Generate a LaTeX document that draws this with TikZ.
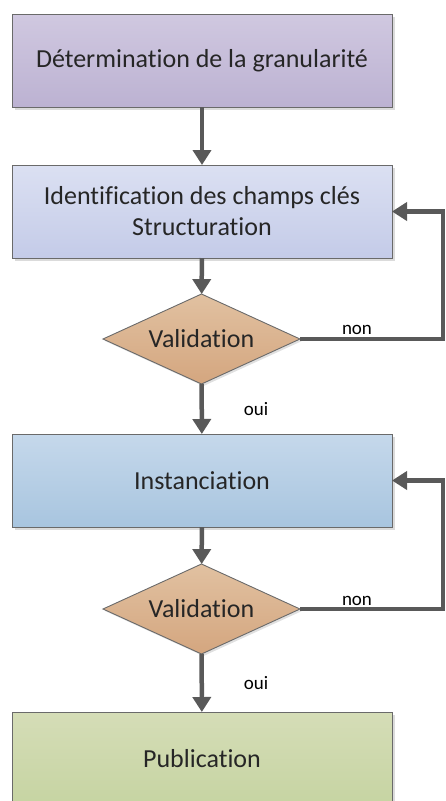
\documentclass[tikz,border=0pt]{standalone}
\usepackage{fontspec}
\setmainfont{Carlito}[Ligatures={NoCommon,NoRare,NoContextual}]
\usetikzlibrary{arrows.meta,shapes.geometric,shadows}
\definecolor{edgegray}{HTML}{595959}
\definecolor{bordergray}{HTML}{6A6A6A}
\definecolor{txt}{HTML}{262626}
\tikzset{
  box/.style={rectangle, draw=bordergray, line width=0.9pt, minimum width=380pt, minimum height=93pt,
    inner sep=0pt, outer sep=0pt, align=center, text=txt,
    font=\fontsize{26}{31}\selectfont,
    drop shadow={shadow xshift=3pt, shadow yshift=-3pt, fill=black!14, opacity=1}},
  decision/.style={diamond, aspect=2.19, draw=bordergray, line width=0.9pt, minimum width=197pt, minimum height=90pt,
    inner sep=0pt, outer sep=0pt, text=txt, font=\fontsize{26}{31}\selectfont,
    top color=dmdtop, bottom color=dmdbot,
    drop shadow={shadow xshift=2pt, shadow yshift=-2pt, fill=black!12, opacity=1}},
  conn/.style={draw=edgegray, line width=4.5pt, -{Triangle[width=18pt,length=15pt]}},
  lbl/.style={font=\fontsize{19}{22}\selectfont, text=black, inner sep=0pt}
}
\definecolor{b1top}{HTML}{D0C8E0}
\definecolor{b1bot}{HTML}{BCB2D2}
\definecolor{b2top}{HTML}{DBE0F2}
\definecolor{b2bot}{HTML}{C4CBE8}
\definecolor{b3top}{HTML}{C5D8EB}
\definecolor{b3bot}{HTML}{A8C5DF}
\definecolor{b4top}{HTML}{D5DDB7}
\definecolor{b4bot}{HTML}{C6D4A2}
\definecolor{dmdtop}{HTML}{E1C1A1}
\definecolor{dmdbot}{HTML}{D4A67F}
\begin{document}
\begin{tikzpicture}[x=1pt,y=-1pt]
\useasboundingbox (0,0) rectangle (445,801);
\node[box, top color=b1top, bottom color=b1bot] (b1) at (202,60.5) {Détermination de la granularité};
\node[box, top color=b2top, bottom color=b2bot] (b2) at (202,211.5) {Identification des champs clés\\Structuration};
\node[decision] (d1) at (201.5,339) {Validation};
\node[box, top color=b3top, bottom color=b3bot] (b3) at (202,480.5) {Instanciation};
\node[decision] (d2) at (201.5,609) {Validation};
\node[box, top color=b4top, bottom color=b4bot] (b4) at (202,758.5) {Publication};
\coordinate (r1) at (443,339);
\coordinate (r2) at (443,609);
\draw[conn] (b1) -- (b2);
\draw[conn] (b2) -- (d1);
\draw[conn] (d1) -- (b3);
\draw[conn] (b3) -- (d2);
\draw[conn] (d2) -- (b4);
\draw[conn] (d1.east) -- (r1) |- (b2.east);
\draw[conn] (d2.east) -- (r2) |- (b3.east);
\node[lbl] (n1) at (357,330) {non};
\node[lbl] (o1) at (256,409) {oui};
\node[lbl] (n2) at (357,601) {non};
\node[lbl] (o2) at (256,683) {oui};
\end{tikzpicture}
\end{document}
